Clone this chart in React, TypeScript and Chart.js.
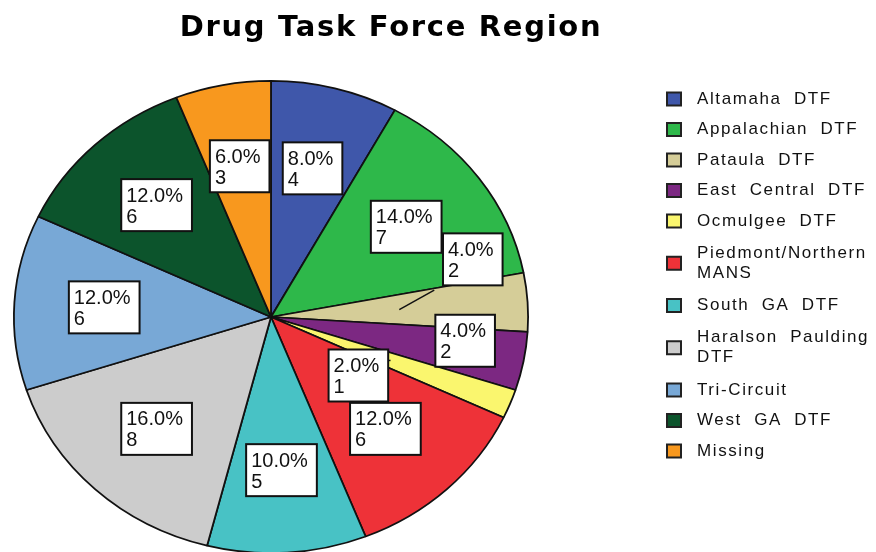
import React, { useEffect, useRef } from "react";
import { Chart, registerables } from "chart.js";

Chart.register(...registerables);

const chartTitle = "Drug Task Force Region";
const categories: (string | string[])[] = [
  "Altamaha DTF",
  "Appalachian DTF",
  "Pataula DTF",
  "East Central DTF",
  "Ocmulgee DTF",
  ["Piedmont/Northern", "MANS"],
  "South GA DTF",
  ["Haralson Paulding", "DTF"],
  "Tri-Circuit",
  "West GA DTF",
  "Missing",
];
const counts = [4, 7, 2, 2, 1, 6, 5, 8, 6, 6, 3];
const sliceColors = [
  "#3F57AA",
  "#2EB84A",
  "#D5CD98",
  "#7C2882",
  "#FAF66E",
  "#EE3238",
  "#48C2C5",
  "#CCCCCC",
  "#78A8D6",
  "#0C542C",
  "#F8981E",
];

// layout-only tweaks for label boxes (SPSS style collision avoidance)
const labelNudge: Record<number, [number, number]> = {
  2: [35, -48],
  3: [30, -5],
  4: [-68, 2],
};
const leaderGap: Record<number, number> = { 2: 10, 4: 0 };

const SY = 236 / 257; // vertical squash of the pie (ellipse)
const FONT = '"Liberation Sans", Arial, sans-serif';

const ellipsePlugin = {
  id: "ellipse",
  beforeDatasetsDraw(chart: any) {
    const arc = chart.getDatasetMeta(0).data[0];
    const ctx = chart.ctx;
    ctx.save();
    ctx.translate(0, arc.y);
    ctx.scale(1, SY);
    ctx.translate(0, -arc.y);
  },
  afterDatasetsDraw(chart: any) {
    chart.ctx.restore();
  },
};

const decorPlugin = {
  id: "decor",
  afterDraw(chart: any) {
    const ctx: CanvasRenderingContext2D = chart.ctx;
    const data: number[] = chart.data.datasets[0].data;
    const total = data.reduce((a, b) => a + b, 0);
    const meta = chart.getDatasetMeta(0);

    // Title
    ctx.save();
    ctx.font = `bold 29px "DejaVu Sans", ${FONT}`;
    (ctx as any).letterSpacing = "1.7px";
    ctx.fillStyle = "#000";
    ctx.textAlign = "left";
    ctx.textBaseline = "alphabetic";
    const tw = ctx.measureText(chartTitle).width;
    ctx.fillText(chartTitle, 391 - tw / 2, 36);
    ctx.restore();

    // Value labels
    const boxes: any[] = [];
    ctx.save();
    ctx.font = `20px ${FONT}`;
    meta.data.forEach((arc: any, i: number) => {
      const { x, y, startAngle, endAngle, outerRadius } = arc.getProps(
        ["x", "y", "startAngle", "endAngle", "outerRadius"],
        true
      );
      const mid = (startAngle + endAngle) / 2;
      const f = 0.65;
      const n = labelNudge[i] || [0, 0];
      const px = x + Math.cos(mid) * outerRadius * f + n[0];
      const py = y + Math.sin(mid) * outerRadius * f * SY + n[1];
      const l1 = ((data[i] / total) * 100).toFixed(1) + "%";
      const l2 = String(data[i]);
      const w = Math.max(ctx.measureText(l1).width, ctx.measureText(l2).width) + 14;
      const h = 52;
      const ax = x + Math.cos(mid) * outerRadius * 0.5;
      const ay = y + Math.sin(mid) * outerRadius * 0.5 * SY;
      boxes.push({ i, left: px - w / 2, top: py - h / 2, w, h, l1, l2, ax, ay });
    });
    // leader lines
    boxes.forEach((b) => {
      if (leaderGap[b.i] === undefined) return;
      const nx = Math.min(Math.max(b.ax, b.left), b.left + b.w);
      const ny = Math.min(Math.max(b.ay, b.top), b.top + b.h);
      const dx = nx - b.ax;
      const dy = ny - b.ay;
      const len = Math.hypot(dx, dy) || 1;
      const gap = leaderGap[b.i];
      const ex = b.ax + (dx / len) * Math.max(len - gap, 3);
      const ey = b.ay + (dy / len) * Math.max(len - gap, 3);
      ctx.beginPath();
      ctx.moveTo(b.ax, b.ay);
      ctx.lineTo(ex, ey);
      ctx.strokeStyle = "#111";
      ctx.lineWidth = 1.5;
      ctx.stroke();
    });
    boxes.forEach((b) => {
      ctx.fillStyle = "#fff";
      ctx.fillRect(b.left, b.top, b.w, b.h);
      ctx.strokeStyle = "#111";
      ctx.lineWidth = 2;
      ctx.strokeRect(b.left, b.top, b.w, b.h);
      ctx.fillStyle = "#111";
      ctx.textAlign = "left";
      ctx.textBaseline = "alphabetic";
      ctx.fillText(b.l1, b.left + 5, b.top + 22.5);
      ctx.fillText(b.l2, b.left + 5, b.top + 43.5);
    });
    ctx.restore();

    // Legend
    ctx.save();
    ctx.font = `17px ${FONT}`;
    (ctx as any).letterSpacing = "1.6px";
    (ctx as any).wordSpacing = "6px";
    ctx.textBaseline = "middle";
    ctx.textAlign = "left";
    const labels: (string | string[])[] = chart.data.labels;
    const colors: string[] = chart.data.datasets[0].backgroundColor;
    let prevH = 0;
    let cy = 99;
    labels.forEach((lab, i) => {
      const lines = Array.isArray(lab) ? lab : [lab];
      const hgt = lines.length > 1 ? 54 : 30.5;
      if (i > 0) cy += prevH / 2 + hgt / 2;
      prevH = hgt;
      ctx.fillStyle = colors[i];
      ctx.fillRect(667, cy - 6.5, 14, 13);
      ctx.strokeStyle = "#222";
      ctx.lineWidth = 2;
      ctx.strokeRect(667, cy - 6.5, 14, 13);
      ctx.fillStyle = "#111";
      const lh = 20;
      lines.forEach((t, k) => {
        ctx.fillText(t, 697, cy + (k - (lines.length - 1) / 2) * lh);
      });
    });
    ctx.restore();
  },
};

export default function App() {
  const ref = useRef<HTMLCanvasElement>(null);
  useEffect(() => {
    document.body.style.margin = "0";
    const chart = new Chart(ref.current!, {
      type: "pie",
      data: {
        labels: categories as any,
        datasets: [
          {
            data: counts,
            backgroundColor: sliceColors,
            borderColor: "#111",
            borderWidth: 1.8,
          },
        ],
      },
      options: {
        responsive: false,
        animation: false,
        events: [],
        layout: { padding: { left: 13, top: 59, right: 347, bottom: 25 } },
        plugins: {
          legend: { display: false },
          title: { display: false },
          tooltip: { enabled: false },
        },
      },
      plugins: [ellipsePlugin, decorPlugin],
    });
    return () => chart.destroy();
  }, []);
  return (
    <div
      style={{
        position: "fixed",
        left: 0,
        top: 0,
        width: 876,
        height: 552,
        overflow: "hidden",
        background: "#fff",
      }}
    >
      <canvas ref={ref} width={876} height={600} style={{ display: "block" }} />
    </div>
  );
}
